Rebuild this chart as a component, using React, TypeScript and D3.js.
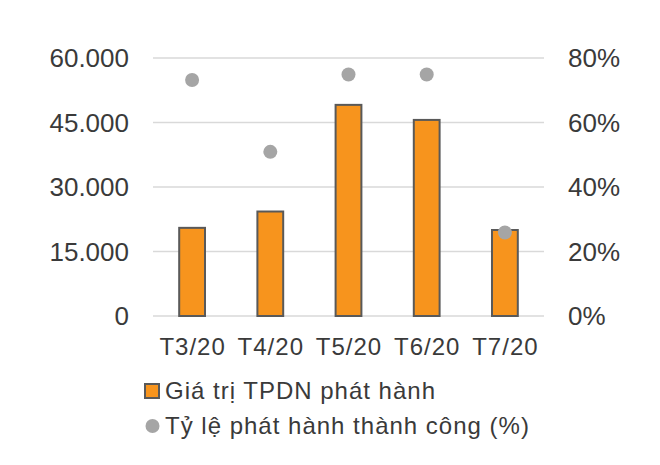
import React, { useRef, useEffect } from 'react';
import * as d3 from 'd3';

const categories = ['T3/20', 'T4/20', 'T5/20', 'T6/20', 'T7/20'];
const issueValues = [20500, 24300, 49100, 45600, 20000];
const successRates = [0.732, 0.509, 0.749, 0.749, 0.259];
const leftTicks = [0, 15000, 30000, 45000, 60000];
const rightTicks = [0, 0.2, 0.4, 0.6, 0.8];
const legendLabels = ['Giá trị TPDN phát hành', 'Tỷ lệ phát hành thành công (%)'];

const App: React.FC = () => {
  const chartRef = useRef<SVGSVGElement | null>(null);

  useEffect(() => {
    if (!chartRef.current) return;
    const svg = d3.select(chartRef.current);
    svg.selectAll('*').remove();

    const width = 660;
    const height = 465;
    const plot = { left: 153, right: 544, top: 58, bottom: 316 };
    const textColor = '#3a3a3a';
    const font = '"Liberation Sans", Arial, sans-serif';

    svg.attr('width', width).attr('height', height).style('font-family', font);

    svg.append('rect').attr('width', width).attr('height', height).attr('fill', '#fff');

    const x = d3.scaleBand<string>()
      .domain(categories)
      .range([plot.left, plot.right]);

    const yLeft = d3.scaleLinear().domain([0, 60000]).range([plot.bottom, plot.top]);
    const yRight = d3.scaleLinear().domain([0, 0.8]).range([plot.bottom, plot.top]);

    const fmtLeft = (v: number) => d3.format(',')(v).replace(/,/g, '.');

    // Gridlines
    svg.append('g')
      .selectAll('line')
      .data(leftTicks)
      .join('line')
      .attr('x1', plot.left)
      .attr('x2', plot.right)
      .attr('y1', d => yLeft(d))
      .attr('y2', d => yLeft(d))
      .attr('stroke', '#d9d9d9')
      .attr('stroke-width', 1.3);

    // Left axis labels
    svg.append('g')
      .selectAll('text')
      .data(leftTicks)
      .join('text')
      .attr('x', 129)
      .attr('y', d => yLeft(d))
      .attr('dy', '0.36em')
      .attr('text-anchor', 'end')
      .attr('font-size', 26)
      .attr('fill', textColor)
      .text(d => fmtLeft(d));

    // Right axis labels
    svg.append('g')
      .selectAll('text')
      .data(rightTicks)
      .join('text')
      .attr('x', 568)
      .attr('y', d => yRight(d))
      .attr('dy', '0.36em')
      .attr('text-anchor', 'start')
      .attr('font-size', 26)
      .attr('fill', textColor)
      .text(d => d3.format('.0%')(d));

    // Bars
    const barWidth = x.bandwidth() * 0.33;
    svg.append('g')
      .selectAll('rect')
      .data(issueValues)
      .join('rect')
      .attr('x', (d, i) => (x(categories[i]) || 0) + x.bandwidth() / 2 - barWidth / 2)
      .attr('y', d => yLeft(d))
      .attr('width', barWidth)
      .attr('height', d => plot.bottom - yLeft(d))
      .attr('fill', '#f7941d')
      .attr('stroke', '#595959')
      .attr('stroke-width', 2);

    // Success rate dots
    svg.append('g')
      .selectAll('circle')
      .data(successRates)
      .join('circle')
      .attr('cx', (d, i) => (x(categories[i]) || 0) + x.bandwidth() / 2)
      .attr('cy', d => yRight(d))
      .attr('r', 7)
      .attr('fill', '#a5a5a5');

    // Category labels
    svg.append('g')
      .selectAll('text')
      .data(categories)
      .join('text')
      .attr('x', d => (x(d) || 0) + x.bandwidth() / 2 + 0.5)
      .attr('y', 355)
      .attr('text-anchor', 'middle')
      .attr('font-size', 24)
      .attr('letter-spacing', 1)
      .attr('fill', textColor)
      .text(d => d);

    // Legend
    const legend = svg.append('g');
    legend.append('rect')
      .attr('x', 145)
      .attr('y', 384)
      .attr('width', 14)
      .attr('height', 14)
      .attr('fill', '#f7941d')
      .attr('stroke', '#595959')
      .attr('stroke-width', 2);
    legend.append('circle')
      .attr('cx', 152.5)
      .attr('cy', 426)
      .attr('r', 7)
      .attr('fill', '#a5a5a5');
    legend.selectAll('text')
      .data(legendLabels)
      .join('text')
      .attr('x', 165)
      .attr('y', (d, i) => 399 + i * 34.5)
      .attr('font-size', 24)
      .attr('letter-spacing', 1)
      .attr('fill', textColor)
      .text(d => d);
  }, []);

  return <svg ref={chartRef} style={{ display: 'block', margin: -8 }} />;
};

export default App;
